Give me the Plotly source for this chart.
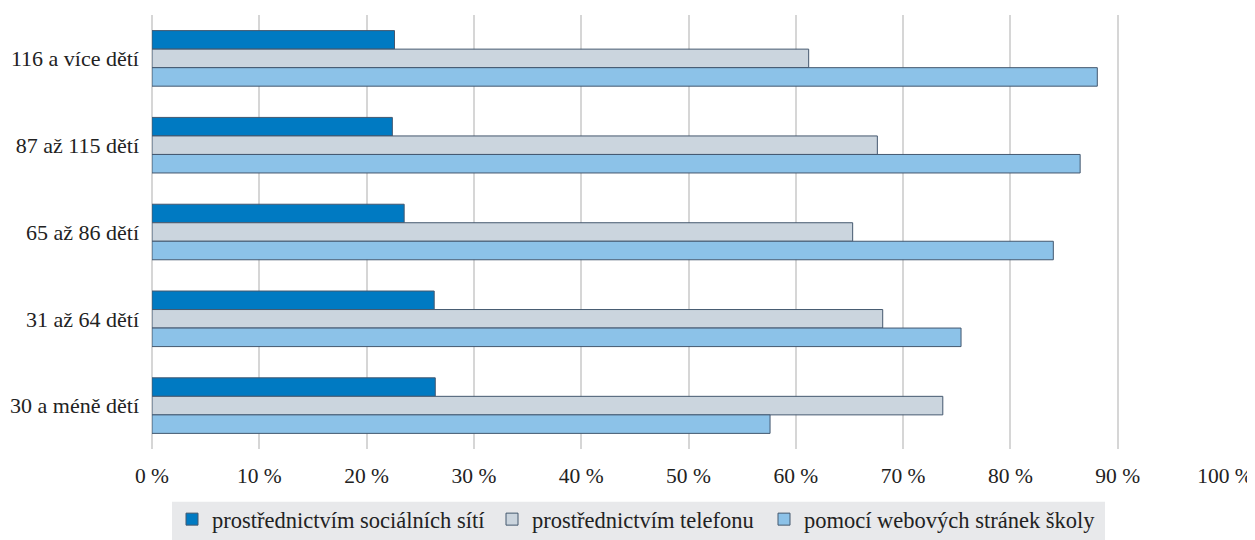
import plotly.graph_objects as go

categories = ["116 a více dětí", "87 až 115 dětí", "65 až 86 dětí", "31 až 64 dětí", "30 a méně dětí"]
social = [22.6, 22.4, 23.5, 26.3, 26.4]
phone = [61.2, 67.6, 65.3, 68.1, 73.7]
web = [88.1, 86.5, 84.0, 75.4, 57.6]
series_names = ["prostřednictvím sociálních sítí", "prostřednictvím telefonu", "pomocí webových stránek školy"]
tick_vals = [0, 10, 20, 30, 40, 50, 60, 70, 80, 90, 100]
tick_text = [f"{v} %" for v in tick_vals]

colors = ["#007AC2", "#CBD5DE", "#8CC2E8"]
font_family = "'Liberation Serif', 'Times New Roman', Times, serif"
FS_CAT = 22
FS_TICK = 21.5
FS_LEG = 22.5

# plot area in screen px: x 152..1225, y 15..452
def px_x(X):
    return (X - 152) / 1073.0

def px_y(Y):
    return (452 - Y) / 437.0

legend_names = ["legend", "legend2", "legend3"]
legend_text_x = [212, 532, 804]

fig = go.Figure()
for name, vals, col, lg in zip(series_names, [social, phone, web], colors, legend_names):
    fig.add_trace(go.Bar(
        y=categories, x=vals, name=name, orientation="h", legend=lg,
        marker=dict(color=col, line=dict(color="#44586F", width=1)),
    ))

legend_common = dict(orientation="h", xanchor="left", yanchor="middle",
                     bgcolor="rgba(0,0,0,0)", borderwidth=0,
                     font=dict(size=FS_LEG, family=font_family, color="#222222"),
                     itemwidth=30)

layout_legends = {}
for lg, tx in zip(legend_names, legend_text_x):
    layout_legends[lg] = dict(legend_common, x=px_x(tx - 40), y=px_y(523))

fig.update_layout(
    width=1255, height=540,
    barmode="group", bargap=0.36, bargroupgap=0,
    plot_bgcolor="white", paper_bgcolor="white",
    margin=dict(l=144, r=38, t=7, b=96),
    font=dict(family=font_family, size=FS_TICK, color="#222222"),
    xaxis=dict(range=[0, 100], tickvals=tick_vals, ticktext=tick_text, automargin=False,
               showgrid=True, gridcolor="#D6D6D6", gridwidth=2,
               zeroline=True, zerolinecolor="#D6D6D6", zerolinewidth=2,
               showline=False, ticks="", ticklabelstandoff=11,
               tickfont=dict(size=FS_TICK, family=font_family, color="#222222")),
    yaxis=dict(autorange="reversed", showgrid=False, zeroline=False, showline=False,
               ticks="", ticklabelstandoff=12, automargin=False,
               tickfont=dict(size=FS_CAT, family=font_family, color="#222222")),
    showlegend=True,
    shapes=[dict(type="rect", xref="paper", yref="paper", layer="below",
                 x0=px_x(172), x1=px_x(1105), y0=px_y(505), y1=px_y(560),
                 fillcolor="#E8E9EB", line=dict(width=0))],
    **layout_legends,
)

fig.write_html("out.html")
